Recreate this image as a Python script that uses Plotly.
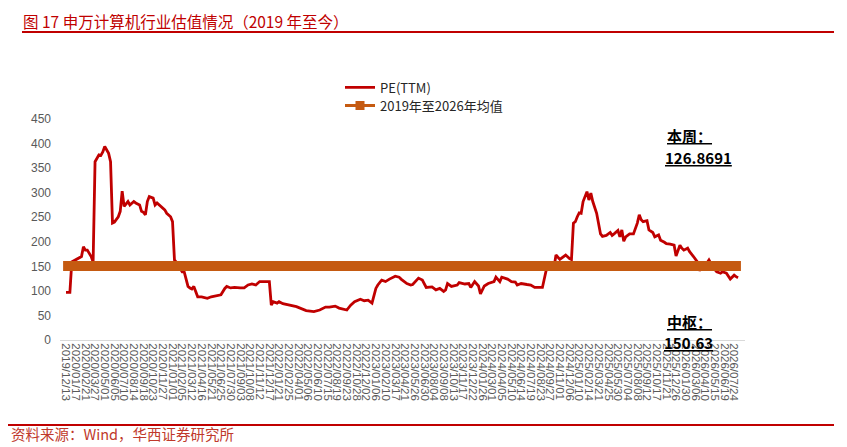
import plotly.graph_objects as go

# Week number since 2019/12/13 for each observation
WEEKS = [0,2,3,5,6,8,9,10,11,13,
         14,15,17,18,19,20,22,23,24,25,
         27,28,29,30,32,33,35,36,38,39,
         40,41,42,43,45,46,47,48,50,51,
         52,54,55,56,57,59,60,61,63,64,
         65,66,68,70,72,73,75,77,79,80,
         82,83,85,87,90,92,94,96,98,100,
         102,104,105,106,107,109,110,112,116,119,
         124,128,131,134,136,139,141,145,147,149,
         152,154,156,158,160,161,163,165,167,170,
         172,173,176,178,179,182,184,186,189,191,
         193,195,196,197,199,202,203,206,208,209,
         211,213,214,216,218,221,222,224,225,228,
         230,232,233,235,238,240,242,244,246,248,
         250,252,253,255,256,258,260,261,262,263,
         264,265,266,267,269,270,271,272,274,275,
         276,277,279,281,282,283,285,286,287,288,
         289,291,293,295,296,297,298,300,301,303,
         304,306,307,309,310,312,314,315,316,317,
         318,319,321,322,324,326,327,329,330,332,
         333,334,336,338,339,341,343,345,346,347]

PE_TTM = [97,97,159,163,166,170,190,183,183,170,
          159,363,377,376,383,394,380,363,238,240,
          251,262,303,272,282,275,282,279,275,262,
          260,255,282,292,289,275,279,275,268,265,
          258,251,241,163,158,146,139,139,109,106,
          104,109,88,88,85,85,88,90,92,92,
          105,109,106,107,106,106,112,114,112,119,
          119,120,119,71,78,75,78,74,71,68,
          60,58,61,67,67,69,65,61,71,78,
          83,80,81,75,105,112,122,119,124,130,
          128,124,115,112,113,126,122,107,108,102,
          105,99,102,115,109,112,117,114,115,107,
          119,110,94,110,115,119,128,119,128,124,
          119,118,112,115,113,112,107,107,107,143,
          144,148,173,164,167,173,166,164,238,241,
          251,259,258,282,302,285,299,282,258,238,
          216,211,213,219,213,216,223,210,224,201,
          210,216,216,238,255,245,241,243,224,219,
          210,214,203,199,196,195,193,171,182,193,
          187,183,187,180,170,159,141,153,151,163,
          156,148,139,136,139,136,124,132,129,126.8691]

MEAN_VALUE = 150.63
LATEST_VALUE = 126.8691

TICK_LABELS = [
    "2019/12/13","2020/01/17","2020/02/21","2020/03/27","2020/05/01","2020/06/05",
    "2020/07/10","2020/08/14","2020/09/18","2020/10/23","2020/11/27","2021/01/01",
    "2021/02/05","2021/03/12","2021/04/16","2021/05/21","2021/06/25","2021/07/30",
    "2021/09/03","2021/10/08","2021/11/12","2021/12/17","2022/01/21","2022/02/25",
    "2022/04/01","2022/05/06","2022/06/10","2022/07/15","2022/08/19","2022/09/23",
    "2022/10/28","2022/12/02","2023/01/06","2023/02/10","2023/03/17","2023/04/21",
    "2023/05/26","2023/06/30","2023/08/04","2023/09/08","2023/10/13","2023/11/17",
    "2023/12/22","2024/01/26","2024/03/01","2024/04/05","2024/05/10","2024/06/14",
    "2024/07/19","2024/08/23","2024/09/27","2024/11/01","2024/12/06","2025/01/10",
    "2025/02/14","2025/03/21","2025/04/25","2025/05/30","2025/07/04","2025/08/08",
    "2025/09/12","2025/10/17","2025/11/21","2025/12/26","2026/01/30","2026/03/06",
    "2026/04/10","2026/05/15","2026/06/19","2026/07/24"]
TICK_STEP_WEEKS = 5

SERIES_NAMES = ["PE(TTM)", "2019年至2026年均值"]

RED = "#c00000"
ORANGE = "#c55a11"
CJK = "Noto Sans CJK SC"

fig = go.Figure()
fig.add_trace(go.Scatter(x=WEEKS, y=PE_TTM, mode="lines", name=SERIES_NAMES[0],
                         line=dict(color=RED, width=2.8), showlegend=True, legend="legend"))
fig.add_trace(go.Scatter(x=[WEEKS[0] - 1.5, WEEKS[-1] + 1.5], y=[MEAN_VALUE, MEAN_VALUE],
                         mode="lines", line=dict(color=ORANGE, width=10), showlegend=False))
fig.add_trace(go.Scatter(x=[None], y=[None], mode="lines+markers", name=SERIES_NAMES[1],
                         line=dict(color=ORANGE, width=3), legend="legend2",
                         marker=dict(symbol="square", size=9, color=ORANGE)))

# The page body adds an 8px offset; work in screen pixels and shift.
OFF = 8
FW, FH = 847 - OFF, 447 - OFF
# plot area on screen: x 60..745 px, y 119..340 px
SX0, SX1, SY0, SY1 = 60, 745, 119, 340
L, R, T, B = SX0 - OFF, FW - (SX1 - OFF), SY0 - OFF, FH - (SY1 - OFF)
W, H = SX1 - SX0, SY1 - SY0
def px(x):
    return (x - SX0) / W
def py(y):
    return (SY1 - y) / H

annotations = [
    dict(text="图 17 申万计算机行业估值情况（2019 年至今）", x=px(21), y=py(8), xanchor="left",
         yanchor="top", font=dict(family=CJK, size=15.5, color=RED)),
    dict(text="资料来源：Wind，华西证券研究所", x=px(9), y=py(446), xanchor="left",
         yanchor="bottom", font=dict(family=CJK, size=14.5, color="#c0392b")),
    dict(text="<u>本周：</u>", x=px(665), y=py(135), xanchor="left", yanchor="middle",
         font=dict(family=CJK, size=15, color="#000000", weight="bold")),
    dict(text="<u>%s</u>" % f"{LATEST_VALUE:.4f}", x=px(663), y=py(157), xanchor="left",
         yanchor="middle", font=dict(family=CJK, size=15, color="#000000", weight="bold")),
    dict(text="<u>中枢：</u>", x=px(665), y=py(321), xanchor="left", yanchor="middle",
         font=dict(family=CJK, size=15, color="#000000", weight="bold")),
    dict(text="<u>%s</u>" % f"{MEAN_VALUE:.2f}", x=px(662), y=py(342), xanchor="left",
         yanchor="middle", font=dict(family=CJK, size=15, color="#000000", weight="bold")),
]
for a in annotations:
    a.update(xref="paper", yref="paper", showarrow=False)

shapes = [
    dict(type="line", xref="paper", yref="paper", x0=px(22), x1=px(834), y0=py(32), y1=py(32),
         line=dict(color=RED, width=2)),
    dict(type="line", xref="paper", yref="paper", x0=px(OFF), x1=px(834), y0=py(425), y1=py(425),
         line=dict(color=RED, width=2)),
]

legend_style = dict(xanchor="left", yanchor="middle",
                    font=dict(family=CJK, size=13, color="#262626"),
                    bgcolor="rgba(0,0,0,0)", itemwidth=30)

fig.update_layout(
    width=FW, height=FH,
    margin=dict(l=L, r=R, t=T, b=B, pad=0),
    paper_bgcolor="white", plot_bgcolor="white",
    font=dict(family=CJK, color="#595959"),
    annotations=annotations, shapes=shapes,
    legend=dict(x=px(340), y=py(87.5), **legend_style),
    legend2=dict(x=px(340), y=py(105.5), **legend_style),
    xaxis=dict(range=[-3.1, 350.6], showgrid=False, zeroline=False,
               showline=True, linecolor="#d9d9d9", linewidth=1,
               tickmode="array",
               tickvals=[i * TICK_STEP_WEEKS for i in range(len(TICK_LABELS))],
               ticktext=TICK_LABELS, tickangle=90, ticks="",
               tickfont=dict(family="Liberation Sans", size=11.5, color="#595959")),
    yaxis=dict(range=[0, 450], dtick=50, tick0=0, showgrid=False, zeroline=False,
               showline=False, ticks="", ticklabelstandoff=8,
               tickfont=dict(family="Liberation Sans", size=12, color="#595959")),
)

fig.write_html("out.html")
